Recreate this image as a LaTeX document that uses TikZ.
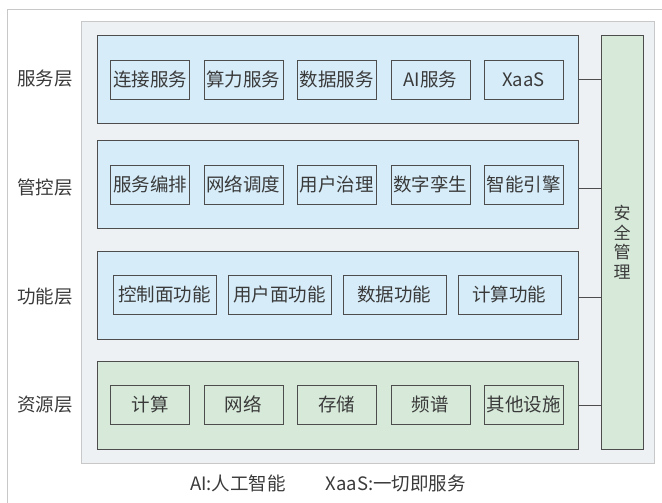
\documentclass[tikz,border=0pt]{standalone}
\usepackage{fontspec}
\setmainfont{Noto Sans CJK SC}
\usepackage{tikz}
\usetikzlibrary{positioning}

\definecolor{layerblue}{RGB}{214,236,249}
\definecolor{layergreen}{RGB}{215,234,218}
\definecolor{panelgray}{RGB}{238,241,243}
\definecolor{edgegray}{RGB}{77,77,77}
\definecolor{framegray}{RGB}{200,200,200}
\definecolor{textgray}{RGB}{58,58,58}

\begin{document}
\begin{tikzpicture}[x=1pt, y=-1pt,
                          every node/.style={text=textgray, font=\fontsize{18.5}{20}\selectfont},
                          layerbox/.style={rectangle, draw=edgegray, fill=layerblue, minimum width=481pt, minimum height=88pt, inner sep=0pt},
                          reslayer/.style={layerbox, fill=layergreen},
                          itembox/.style={rectangle, draw=edgegray, minimum width=79pt, minimum height=39pt, inner sep=0pt},
                          widebox/.style={itembox, minimum width=103pt},
                          tag/.style={inner sep=0pt},
                          node distance=14pt,
                      ]
                      \useasboundingbox (0,0) rectangle (662,503);
                      \draw[framegray] (662,9) -- (7.5,9) -- (7.5,503);
                      \draw[framegray, fill=panelgray] (81.5,21) rectangle (654,463);

                      % Nodes
                      \node[layerbox]        (service)     at (337.3,79)        {};
                      \node[layerbox]        (control)     at (337.3,184.5)     {};
                      \node[layerbox]        (function)    at (337.3,295)       {};
                      \node[reslayer]        (resource)    at (337.3,405)       {};
                      \node[rectangle, draw=edgegray, fill=layergreen, minimum width=42pt, minimum height=414pt, inner sep=0pt]
                                             (security)    at (622,242)
                                             {\parbox{18pt}{\centering\fontsize{17}{19.5}\selectfont 安\\全\\管\\理}};

                      \node[tag]             (service_tag)    at (45,79)      {服务层};
                      \node[tag]             (control_tag)    at (45,188)     {管控层};
                      \node[tag]             (function_tag)   at (45,297)     {功能层};
                      \node[tag]             (resource_tag)   at (45,405)     {资源层};

                      \node[itembox]    (connect)     at (150,79.5)         {连接服务};
                      \node[itembox]    (compute_s)   [right=of connect]    {算力服务};
                      \node[itembox]    (data_s)      [right=of compute_s]  {数据服务};
                      \node[itembox]    (ai_s)        [right=of data_s]     {AI服务};
                      \node[itembox]    (xaas)        [right=of ai_s]       {XaaS};

                      \node[itembox]    (orchestrate) at (150,184.5)        {服务编排};
                      \node[itembox]    (schedule)    [right=of orchestrate] {网络调度};
                      \node[itembox]    (governance)  [right=of schedule]   {用户治理};
                      \node[itembox]    (twin)        [right=of governance] {数字孪生};
                      \node[itembox]    (engine)      [right=of twin]       {智能引擎};

                      \node[widebox]    (cplane)      at (164.5,294.5)      {控制面功能};
                      \node[widebox]    (uplane)      [right=11.5pt of cplane]  {用户面功能};
                      \node[widebox]    (data_f)      [right=11.5pt of uplane]  {数据功能};
                      \node[widebox]    (compute_f)   [right=11.5pt of data_f]  {计算功能};

                      \node[itembox]    (compute_r)   at (150,404.5)        {计算};
                      \node[itembox]    (network)     [right=of compute_r]  {网络};
                      \node[itembox]    (storage)     [right=of network]    {存储};
                      \node[itembox]    (spectrum)    [right=of storage]    {频谱};
                      \node[itembox]    (others)      [right=of spectrum]   {其他设施};

                      \node[tag]        (legend)      at (328,483)          {AI:人工智能\hspace{40pt}XaaS:一切即服务};

                      %Lines
                      \draw[edgegray] (service.east |- 0,79) -- (security.west |- 0,79);
                      \draw[edgegray] (control.east |- 0,188) -- (security.west |- 0,188);
                      \draw[edgegray] (function.east |- 0,297) -- (security.west |- 0,297);
                      \draw[edgegray] (resource.east) -- (resource.east -| security.west);
                  \end{tikzpicture}
\end{document}
